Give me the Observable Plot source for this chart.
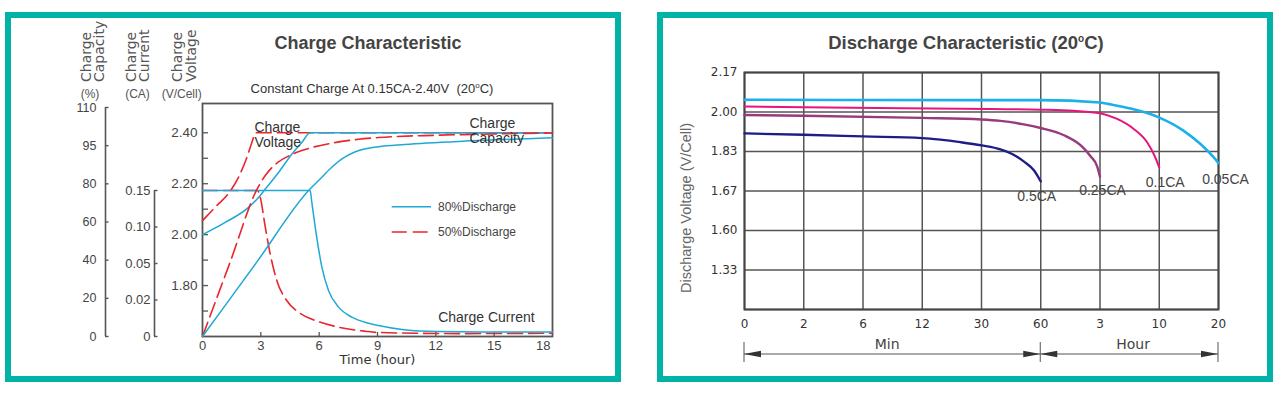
<!DOCTYPE html>
<html><head><meta charset="utf-8">
<script src="https://cdn.jsdelivr.net/npm/d3@7"></script>
<script src="https://cdn.jsdelivr.net/npm/@observablehq/plot@0.6"></script>
<style>
body{margin:0;background:#fff;}
#root{position:relative;width:1280px;height:397px;overflow:hidden;background:#fff;}
.box{position:absolute;border:6px solid #00b3a6;box-sizing:border-box;}
#root > svg{position:absolute;left:0;top:0;}
</style></head><body><div id="root"></div>
<script>
// ---------- Left chart: Charge Characteristic ----------
const hourTicks = [0, 3, 6, 9, 12, 15, 18];
const voltTicks = [1.80, 2.00, 2.20, 2.40];
const voltMinorTicks = [1.70, 1.90, 2.10, 2.30];
const capacityTicks = [0, 20, 40, 60, 80, 95, 110];
const currentTicks = [0, 0.02, 0.05, 0.10, 0.15];

const volt80Hours = [0, 1.17, 2.37, 2.88, 3.23, 3.91, 4.59, 5.11, 5.54, 18];
const volt80 = [2.00, 2.048, 2.107, 2.146, 2.179, 2.244, 2.316, 2.362, 2.40, 2.40];
const volt50Hours = [0, 0.65, 1.42, 1.85, 2.28, 2.54, 2.74, 18];
const volt50 = [2.055, 2.107, 2.170, 2.225, 2.303, 2.362, 2.40, 2.40];

const current80Hours = [0, 5.54, 5.61, 5.86, 6.14, 6.48, 7.00, 7.68, 8.54, 9.05, 10.36, 12.07, 15, 18];
const current80 = [0.15, 0.15, 0.1363, 0.0884, 0.047, 0.0278, 0.0161, 0.0106, 0.0073, 0.0060, 0.0037, 0.0027, 0.0025, 0.0024];
const current50Hours = [0, 2.84, 2.97, 3.23, 3.48, 3.82, 4.33, 4.94, 5.80, 7.0, 8.37, 9.05, 13.1, 18];
const current50 = [0.15, 0.15, 0.1408, 0.0997, 0.0633, 0.036, 0.0197, 0.0133, 0.0088, 0.0051, 0.0029, 0.0022, 0.0016, 0.0018];

const capacity80Hours = [0, 2.77, 5.54, 5.97, 6.65, 7.17, 7.86, 9.05, 10.4, 13.8, 18];
const capacity80 = [0, 38.7, 77.4, 81.3, 86.5, 89.8, 92.6, 94.6, 95.5, 96.9, 98.1];
const capacity50Hours = [0, 1.42, 2.84, 3.23, 3.74, 4.42, 5.28, 6.65, 8.02, 9.05, 12.07, 15, 18];
const capacity50 = [0, 38.95, 77.9, 83.3, 87.6, 90.9, 93.5, 96.0, 97.5, 98.2, 99.1, 99.6, 100];

const voltageNote = [{h: 2.67, v: 2.444, label: "Charge\nVoltage"}];
const currentNote = [{h: 12.12, v: 0.0133, label: "Charge Current"}];
const capacityNote = [{h: 13.73, v: 106.2, label: "Charge\nCapacity"}];

// ---------- Right chart: Discharge Characteristic ----------
const dischargeMinuteTicks = [0, 2, 6, 12, 30, 60, 180, 600, 1200];
const dischargeVoltTicks = [1.33, 1.60, 1.67, 1.83, 2.00, 2.17];
const dischargeVoltFloor = 1.06;
const unitBoundaryMinutes = 60;

const rateLabels = ["0.05CA", "0.1CA", "0.25CA", "0.5CA"];
const minutes005 = [0, 34.6, 60, 180, 254, 396, 597, 848, 1018, 1152, 1200];
const volts005 = [2.053, 2.051, 2.051, 2.041, 2.033, 2.015, 1.977, 1.919, 1.862, 1.806, 1.783];
const minutes01 = [0, 2, 34.6, 60, 127, 180, 302, 419, 515, 561, 600];
const volts01 = [2.024, 2.020, 2.013, 2.010, 2.005, 1.995, 1.970, 1.927, 1.869, 1.820, 1.766];
const minutes025 = [0, 2, 12, 30, 39.6, 51.4, 60, 107, 140.5, 160.8, 174.4, 180];
const volts025 = [1.987, 1.984, 1.9745, 1.968, 1.962, 1.947, 1.931, 1.900, 1.857, 1.811, 1.769, 1.728];
const minutes05 = [0, 2, 6, 12, 17.5, 23.6, 30, 39.6, 44.7, 51.4, 56.5, 60];
const volts05 = [1.908, 1.902, 1.895, 1.888, 1.881, 1.870, 1.856, 1.839, 1.823, 1.790, 1.754, 1.709];

// ---------- styles ----------
const SANS = "Liberation Sans, Arial, Helvetica, sans-serif";
const DEJA = "DejaVu Sans, Verdana, sans-serif";
const BLUE = "#1fa8d6", RED = "#e8262c", DASH = "15,6";
const rateColors = ["#1bb0ea", "#e5157d", "#983a7d", "#1d1d87"];
const rateWidths = [2.6, 2.0, 2.4, 2.3];
const labelOffsets = [[7, 16.5], [6, 15], [2.5, 14], [-4, 15.5]];

const rows = (xs, ys) => xs.map((x, i) => ({x, y: ys[i]}));
const W = 1280, H = 397;
const baseStyle = {background: "transparent", overflow: "visible", fontFamily: SANS};
const layer = (o) => Plot.plot({width: W, height: H, style: baseStyle, ...o});
const leftMargins = {marginLeft: 202, marginRight: 728, marginBottom: 61};

const root = document.getElementById("root");
for (const [l, w] of [[5, 616], [657, 616]]) {
  const b = document.createElement("div");
  b.className = "box";
  Object.assign(b.style, {left: l + "px", top: "12px", width: w + "px", height: "370px"});
  root.appendChild(b);
}

const L1 = layer({
  ...leftMargins, marginTop: 103,
  x: {type: "linear", domain: [0, 18], label: null},
  y: {type: "linear", domain: [1.60, 2.515], label: null},
  marks: [
    Plot.frame({stroke: "#555", strokeWidth: 1.8}),
    Plot.axisY(voltMinorTicks, {tickSize: -6, tickFormat: () => "", stroke: "#555", strokeWidth: 1.3, label: null}),
    Plot.axisY(voltTicks, {tickSize: -6, tickPadding: 11, tickFormat: d => d.toFixed(2), fontSize: 13.5, fontFamily: SANS, fill: "#444", stroke: "#555", strokeWidth: 1.3, label: null}),
    Plot.axisX(hourTicks.slice(0, -1), {tickSize: -4, tickPadding: 8.5, fontSize: 13, fontFamily: SANS, fill: "#444", stroke: "#555", strokeWidth: 1.3, label: null}),
    Plot.axisX(hourTicks.slice(-1), {tickSize: 0, tickPadding: 4.5, textAnchor: "end", dx: -2, fontSize: 13, fontFamily: SANS, fill: "#444", label: null}),
    Plot.text(["Time (hour)"], {frameAnchor: "bottom", dy: 27, fontSize: 13, fontFamily: DEJA, fill: "#333"}),
    Plot.line(rows(volt50Hours, volt50), {x: "x", y: "y", stroke: RED, strokeWidth: 1.6, strokeDasharray: DASH, curve: "monotone-x"}),
    Plot.line(rows(volt80Hours, volt80), {x: "x", y: "y", stroke: BLUE, strokeWidth: 1.5, curve: "monotone-x"}),
    Plot.text(voltageNote, {x: "h", y: "v", text: "label", textAnchor: "start", lineAnchor: "top", lineHeight: 1.08, fontSize: 14, fontFamily: SANS, fill: "#333"})
  ]
});

const L2 = layer({
  ...leftMargins, marginTop: 190,
  x: {type: "linear", domain: [0, 18], axis: null},
  y: {type: "linear", domain: currentTicks, axis: null},
  marks: [
    Plot.line(rows(current50Hours, current50), {x: "x", y: "y", stroke: RED, strokeWidth: 1.6, strokeDasharray: DASH, curve: "monotone-x"}),
    Plot.line(rows(current80Hours, current80), {x: "x", y: "y", stroke: BLUE, strokeWidth: 1.5, curve: "monotone-x"}),
    Plot.text(currentNote, {x: "h", y: "v", text: "label", textAnchor: "start", lineAnchor: "top", fontSize: 14, fontFamily: SANS, fill: "#333"})
  ]
});

const L3 = layer({
  ...leftMargins, marginTop: 107,
  x: {type: "linear", domain: [0, 18], axis: null},
  y: {type: "linear", domain: capacityTicks, axis: null},
  marks: [
    Plot.line(rows(capacity50Hours, capacity50), {x: "x", y: "y", stroke: RED, strokeWidth: 1.6, strokeDasharray: DASH, curve: "monotone-x"}),
    Plot.line(rows(capacity80Hours, capacity80), {x: "x", y: "y", stroke: BLUE, strokeWidth: 1.5, curve: "monotone-x"}),
    Plot.text(capacityNote, {x: "h", y: "v", text: "label", textAnchor: "start", lineAnchor: "top", lineHeight: 1.08, fontSize: 14, fontFamily: SANS, fill: "#333"})
  ]
});

const A1 = layer({
  marginLeft: 105, marginRight: 0, marginTop: 107, marginBottom: 61,
  x: {type: "linear", domain: [0, 1], axis: null},
  y: {type: "linear", domain: capacityTicks, label: null},
  marks: [
    Plot.ruleX([0], {stroke: "#555", strokeWidth: 1.6}),
    Plot.axisY(capacityTicks, {tickSize: -3.5, tickPadding: 12.5, fontSize: 12.5, fontFamily: SANS, fill: "#444", stroke: "#555", strokeWidth: 1.4, label: null})
  ]
});

const A2 = layer({
  marginLeft: 154, marginRight: 0, marginTop: 190, marginBottom: 61,
  x: {type: "linear", domain: [0, 1], axis: null},
  y: {type: "linear", domain: currentTicks, label: null},
  marks: [
    Plot.ruleX([0], {stroke: "#555", strokeWidth: 1.6}),
    Plot.axisY(currentTicks, {tickSize: -3.5, tickPadding: 7.5, tickFormat: d => d === 0 ? "0" : d.toFixed(2), fontSize: 13, fontFamily: SANS, fill: "#444", stroke: "#555", strokeWidth: 1.4, label: null})
  ]
});

const rates = [
  {minutes: minutes005, volts: volts005},
  {minutes: minutes01, volts: volts01},
  {minutes: minutes025, volts: volts025},
  {minutes: minutes05, volts: volts05}
];
const voltDomainR = [dischargeVoltFloor, ...dischargeVoltTicks];

const R1 = layer({
  marginLeft: 744, marginRight: 62, marginTop: 72, marginBottom: 88,
  x: {type: "linear", domain: dischargeMinuteTicks, label: null},
  y: {type: "linear", domain: voltDomainR, label: null},
  marks: [
    Plot.gridX(dischargeMinuteTicks, {stroke: "#555", strokeOpacity: 1, strokeWidth: 1.5}),
    Plot.gridY(voltDomainR, {stroke: "#555", strokeOpacity: 1, strokeWidth: 1.5}),
    Plot.frame({stroke: "#444", strokeWidth: 2}),
    Plot.axisY(dischargeVoltTicks, {tickSize: 0, tickPadding: 7, tickFormat: d => d.toFixed(2), fontSize: 12, fontFamily: DEJA, fill: "#333", label: null}),
    Plot.axisX(dischargeMinuteTicks, {tickSize: 0, tickPadding: 10, tickFormat: m => m <= unitBoundaryMinutes ? String(m) : String(m / 60), fontSize: 12, fontFamily: DEJA, fill: "#333", label: null}),
    ...rates.flatMap((r, i) => [
      Plot.line(rows(r.minutes, r.volts), {x: "x", y: "y", stroke: rateColors[i], strokeWidth: rateWidths[i], curve: "monotone-x"}),
      Plot.text(rows(r.minutes, r.volts), Plot.selectLast({x: "x", y: "y", text: () => rateLabels[i], dx: labelOffsets[i][0], dy: labelOffsets[i][1], fontSize: 14, fontFamily: SANS, fill: "#444"}))
    ])
  ]
});

// dimension arrows (Min / Hour) positioned with the plot's own x scale
{
  const sx = R1.scale("x");
  const xa = sx.apply(dischargeMinuteTicks[0]);
  const xb = sx.apply(unitBoundaryMinutes);
  const xc = sx.apply(dischargeMinuteTicks[dischargeMinuteTicks.length - 1]);
  const yDim = 354, head = 17, half = 3.2;
  const g = d3.select(R1).append("g");
  for (const [a, b] of [[xa, xb], [xb, xc]]) {
    g.append("line").attr("x1", a).attr("x2", b).attr("y1", yDim).attr("y2", yDim).attr("stroke", "#555").attr("stroke-width", 1);
    g.append("path").attr("d", `M${a},${yDim}L${a + head},${yDim - half}L${a + head},${yDim + half}Z`).attr("fill", "#333");
    g.append("path").attr("d", `M${b},${yDim}L${b - head},${yDim - half}L${b - head},${yDim + half}Z`).attr("fill", "#333");
  }
  for (const x of [xa, xb, xc]) {
    g.append("line").attr("x1", x).attr("x2", x).attr("y1", 342).attr("y2", 362).attr("stroke", "#555").attr("stroke-width", 1);
  }
  g.append("text").attr("x", (xa + xb) / 2 - 5).attr("y", 349).attr("text-anchor", "middle")
    .attr("font-family", DEJA).attr("font-size", 14).attr("fill", "#444").text("Min");
  g.append("text").attr("x", (xb + xc) / 2 + 4).attr("y", 349).attr("text-anchor", "middle")
    .attr("font-family", DEJA).attr("font-size", 14).attr("fill", "#444").text("Hour");
}

for (const p of [L1, L2, L3, A1, A2, R1]) root.appendChild(p);

// static titles, headers and legend
const overlay = `
<svg xmlns="http://www.w3.org/2000/svg" width="1280" height="397" font-family="${SANS}">
  <text x="368" y="49" text-anchor="middle" font-weight="bold" font-size="18" fill="#444">Charge Characteristic</text>
  <text x="372" y="93" text-anchor="middle" font-size="13" fill="#333">Constant Charge At 0.15CA-2.40V&#160;&#160;(20<tspan font-size="8" dy="-5">o</tspan><tspan dy="5">C)</tspan></text>
  <g font-family="${DEJA}" font-size="14" fill="#555">
    <text transform="translate(90.6,82) rotate(-90)">Charge</text>
    <text transform="translate(103.6,82) rotate(-90)">Capacity</text>
    <text transform="translate(135.6,82) rotate(-90)">Charge</text>
    <text transform="translate(148.9,82) rotate(-90)">Current</text>
    <text transform="translate(182.3,82) rotate(-90)">Charge</text>
    <text transform="translate(195.6,82) rotate(-90)">Voltage</text>
  </g>
  <g font-size="12" fill="#555" text-anchor="middle">
    <text x="90" y="98">(%)</text>
    <text x="137.5" y="98">(CA)</text>
    <text x="181.7" y="98">(V/Cell)</text>
  </g>
  <line x1="391.7" x2="431" y1="206.7" y2="206.7" stroke="${BLUE}" stroke-width="1.5"/>
  <text x="438" y="210.5" font-size="12" fill="#444">80%Discharge</text>
  <line x1="391.7" x2="431" y1="232" y2="232" stroke="${RED}" stroke-width="1.6" stroke-dasharray="${DASH}"/>
  <text x="438" y="236" font-size="12" fill="#444">50%Discharge</text>
  <text x="966" y="49" text-anchor="middle" font-weight="bold" font-size="18.5" fill="#444">Discharge Characteristic (20<tspan font-size="10" dy="-7">o</tspan><tspan dy="7">C)</tspan></text>
  <text transform="translate(691,293) rotate(-90)" font-size="14.5" fill="#666">Discharge Voltage (V/Cell)</text>
</svg>`;
root.insertAdjacentHTML("beforeend", overlay);
</script>
</body></html>
